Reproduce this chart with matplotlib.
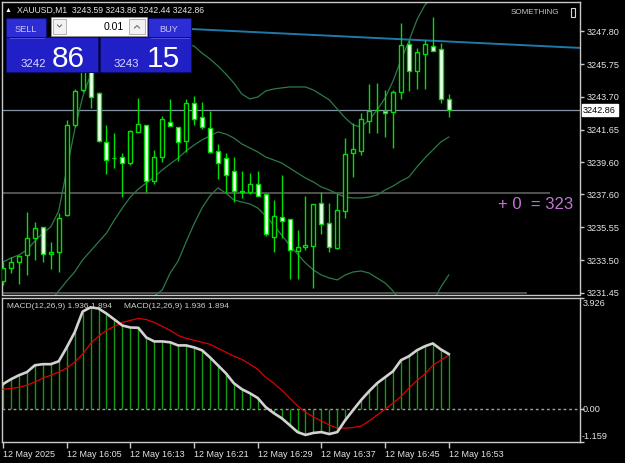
import matplotlib
matplotlib.use("Agg")
import matplotlib.pyplot as plt
from matplotlib.patches import Rectangle
import numpy as np

plt.rcParams['font.family'] = ['Liberation Sans', 'DejaVu Sans']

# XAUUSD M1, 12 May 2025 15:57 .. 16:53
opens = [3232.19, 3233.01, 3233.38, 3233.82, 3234.88, 3235.57, 3233.88, 3234.01, 3236.32, 3241.94,
         3244.13, 3245.63, 3243.94, 3240.88, 3239.88, 3239.94, 3239.57, 3241.51, 3241.94, 3238.44,
         3239.94, 3242.13, 3241.82, 3240.94, 3243.32, 3242.44, 3241.76, 3240.32, 3239.88, 3239.07,
         3237.82, 3237.76, 3238.26, 3237.63, 3234.94, 3236.19, 3236.07, 3234.07, 3234.32, 3234.38,
         3237.07, 3235.82, 3234.26, 3236.57, 3240.19, 3240.32, 3242.19, 3242.88, 3242.84, 3242.76,
         3244.01, 3247.01, 3245.32, 3246.38, 3246.88, 3246.69, 3243.59]
highs = [3233.38, 3233.69, 3233.82, 3236.51, 3235.88, 3235.57, 3234.63, 3236.44, 3242.26, 3244.19,
         3245.76, 3245.88, 3244.01, 3241.94, 3241.44, 3240.19, 3241.63, 3243.63, 3241.94, 3240.38,
         3242.51, 3243.57, 3241.82, 3243.57, 3243.76, 3243.38, 3242.82, 3240.76, 3240.19, 3239.94,
         3239.07, 3238.94, 3239.07, 3237.69, 3237.26, 3238.81, 3236.07, 3235.38, 3237.51, 3237.01,
         3237.76, 3237.07, 3237.63, 3241.13, 3242.07, 3242.69, 3244.51, 3244.57, 3244.13, 3244.13,
         3248.32, 3247.26, 3246.76, 3247.26, 3248.69, 3247.07, 3243.86]
lows = [3231.94, 3232.69, 3232.01, 3232.57, 3233.51, 3233.38, 3232.94, 3232.76, 3236.26, 3241.82,
        3244.01, 3243.01, 3240.88, 3238.88, 3239.26, 3237.44, 3239.44, 3241.51, 3237.76, 3238.26,
        3239.63, 3241.88, 3239.69, 3240.26, 3241.94, 3241.69, 3240.19, 3238.57, 3237.69, 3237.13,
        3237.38, 3237.63, 3237.51, 3235.01, 3234.01, 3234.88, 3232.32, 3232.32, 3234.13, 3231.76,
        3235.13, 3234.01, 3234.19, 3236.13, 3238.69, 3240.07, 3241.44, 3241.44, 3241.19, 3240.51,
        3243.57, 3244.07, 3244.19, 3244.19, 3246.57, 3243.32, 3242.44]
closes = [3233.01, 3233.38, 3233.76, 3234.88, 3235.51, 3233.88, 3234.01, 3236.13, 3241.94, 3244.07,
          3245.51, 3243.69, 3240.94, 3239.76, 3239.85, 3239.57, 3241.57, 3242.01, 3238.44, 3239.94,
          3242.32, 3241.88, 3240.88, 3243.32, 3242.32, 3241.82, 3240.26, 3239.57, 3238.81, 3237.82,
          3237.76, 3238.26, 3237.51, 3235.13, 3236.26, 3235.94, 3234.13, 3234.32, 3234.44, 3237.01,
          3235.76, 3234.32, 3236.63, 3240.13, 3240.44, 3242.32, 3242.82, 3242.85, 3242.67, 3244.01,
          3246.94, 3245.32, 3246.51, 3247.01, 3246.57, 3243.57, 3242.86]

bb_upper = [3233.38, 3233.63, 3233.82, 3234.13, 3234.69, 3235.19, 3235.57, 3236.57, 3239.13, 3241.63,
            3243.69, 3245.07, 3245.88, 3246.63, 3247.13, 3247.44, 3247.57, 3247.57, 3247.51, 3247.38,
            3247.26, 3247.13, 3247.01, 3246.94, 3246.88, 3246.44, 3246.07, 3245.63, 3245.13, 3244.57,
            3243.88, 3243.57, 3243.69, 3244.07, 3244.19, 3244.26, 3244.32, 3244.32, 3244.32, 3244.13,
            3243.82, 3243.51, 3242.94, 3242.38, 3241.94, 3241.82, 3242.26, 3242.88, 3243.63, 3244.69,
            3246.01, 3247.19, 3248.51, 3249.44, 3249.90, 3249.95, 3249.81]
bb_middle = [3228.19, 3228.51, 3228.88, 3229.32, 3229.82, 3230.32, 3230.94, 3231.57, 3232.19, 3232.76,
             3233.51, 3234.07, 3234.63, 3235.19, 3236.01, 3236.76, 3237.44, 3237.94, 3238.32, 3238.69,
             3239.13, 3239.51, 3239.88, 3240.32, 3240.69, 3241.01, 3241.26, 3241.51, 3241.38, 3241.13,
             3240.76, 3240.51, 3240.26, 3239.94, 3239.76, 3239.57, 3239.26, 3238.94, 3238.63, 3238.38,
             3238.07, 3237.88, 3237.63, 3237.44, 3237.38, 3237.38, 3237.44, 3237.57, 3237.88, 3238.13,
             3238.44, 3238.69, 3239.32, 3239.88, 3240.38, 3240.88, 3241.19]
bb_lower = [3222.88, 3223.01, 3223.19, 3223.51, 3224.01, 3224.44, 3224.88, 3225.69, 3226.01, 3226.32,
            3226.63, 3227.13, 3227.57, 3228.07, 3228.51, 3229.01, 3229.63, 3230.26, 3230.82, 3231.26,
            3231.63, 3232.69, 3233.44, 3234.63, 3235.76, 3236.76, 3237.51, 3238.01, 3237.69, 3237.26,
            3237.13, 3237.01, 3236.76, 3236.26, 3235.69, 3235.07, 3234.44, 3233.88, 3233.32, 3232.88,
            3232.57, 3232.38, 3232.26, 3232.57, 3232.76, 3232.82, 3232.69, 3232.38, 3232.07, 3231.57,
            3230.87, 3230.19, 3230.13, 3230.32, 3230.86, 3231.81, 3232.57]

macd_main = [0.88, 1.05, 1.19, 1.30, 1.54, 1.58, 1.58, 1.68, 2.17, 2.70,
             3.43, 3.58, 3.54, 3.36, 3.15, 2.94, 2.87, 2.86, 2.52, 2.38,
             2.38, 2.35, 2.24, 2.24, 2.17, 2.07, 1.82, 1.54, 1.26, 0.91,
             0.70, 0.56, 0.39, 0.07, -0.14, -0.32, -0.56, -0.81, -0.91, -0.84,
             -0.81, -0.88, -0.81, -0.39, -0.03, 0.32, 0.63, 0.91, 1.12, 1.33,
             1.72, 1.86, 2.07, 2.21, 2.31, 2.10, 1.936]
macd_signal = [0.70, 0.72, 0.77, 0.84, 0.95, 1.09, 1.19, 1.30, 1.44, 1.65,
               1.93, 2.31, 2.56, 2.77, 2.91, 3.05, 3.12, 3.19, 3.15, 3.05,
               2.91, 2.77, 2.59, 2.49, 2.42, 2.35, 2.28, 2.14, 2.00, 1.86,
               1.75, 1.58, 1.40, 1.12, 0.91, 0.67, 0.39, 0.11, -0.11, -0.28,
               -0.42, -0.56, -0.67, -0.67, -0.65, -0.60, -0.42, -0.21, 0.00, 0.21,
               0.44, 0.74, 1.00, 1.23, 1.54, 1.72, 1.894]

price_ticks = [3247.80, 3245.75, 3243.70, 3241.65, 3239.60, 3237.60, 3235.55, 3233.50, 3231.45]
time_ticks = [0, 8, 16, 24, 32, 40, 48, 56]
time_labels = ["12 May 2025", "12 May 16:05", "12 May 16:13", "12 May 16:21",
               "12 May 16:29", "12 May 16:37", "12 May 16:45", "12 May 16:53"]
last_price = 3242.86
level_a = 3237.69
level_b = 3231.47
trend_x = [20, 75]
trend_y = [3248.03, 3246.70]

W, H = 625, 463
LIME = '#00e000'
FG = '#e4e4e4'

fig = plt.figure(figsize=(W / 100, H / 100), dpi=100, facecolor='black')


def px_axes(x0, y0, x1, y1):
    a = fig.add_axes([x0 / W, 1 - y1 / H, (x1 - x0) / W, (y1 - y0) / H])
    a.set_facecolor('black')
    for s in a.spines.values():
        s.set_color('#c8c8c8')
        s.set_linewidth(1)
    return a


ax = px_axes(2, 2, 580, 294.5)
mx = px_axes(2, 297.5, 580, 442)

idx = np.arange(len(opens))
xlim = (-0.126, 72.49)

# ---- price panel
o = np.array(opens)
c = np.array(closes)
bull = c >= o
ax.plot(idx, bb_upper, color='#2c7a48', lw=0.9, zorder=2)
ax.plot(idx, bb_middle, color='#2c7a48', lw=0.9, zorder=2)
ax.plot(idx, bb_lower, color='#2c7a48', lw=0.9, zorder=2)
ax.axhline(last_price, color='#8796a6', lw=0.9, zorder=1)
ax.hlines(level_a, -1, 68.7, color='#585858', lw=1.3, zorder=1)
ax.hlines(level_b, -1, 65.8, color='#585858', lw=1.3, zorder=1)
ax.plot(trend_x, trend_y, color='#1f78aa', lw=1.4, zorder=2)
ax.vlines(idx, lows, highs, color=LIME, lw=1, zorder=3)
ax.bar(idx, np.maximum(np.abs(c - o), 0.01), bottom=np.minimum(o, c), width=0.5,
       color=np.where(bull, 'black', 'white'), edgecolor=LIME, linewidth=1, zorder=4)
# label runs off the chart's right edge, only "323" of the price shows
ax.text(62.2, 3236.95, "+ 0  = 323", color='#c276d2', fontsize=12, va='center',
        ha='left', zorder=5)

ax.set_xlim(*xlim)
ax.set_ylim(3231.35, 3249.63)
ax.set_xticks([])
ax.yaxis.tick_right()
ax.set_yticks(price_ticks)
ax.set_yticklabels(["%.2f" % p for p in price_ticks])
ax.tick_params(axis='y', length=3, width=1, color='#c8c8c8', labelcolor=FG,
               labelsize=6.6, pad=2)
ax.text(1.0055, last_price, "%.2f" % last_price, transform=ax.get_yaxis_transform(),
        color='black', fontsize=6.6, va='center', ha='left', zorder=6,
        bbox=dict(boxstyle='square,pad=0.18', fc='white', ec='white'), clip_on=False)

# ---- MACD panel
mx.vlines(idx, 0, macd_main, color='#129a12', lw=1, zorder=2)
mx.axhline(0, color='#a0a0a0', lw=1, ls=(0, (2, 2)), zorder=1)
mx.plot(idx, macd_signal, color='#dd0000', lw=0.9, zorder=3)
mx.plot(idx, macd_main, color='#d2d2d2', lw=1.9, zorder=4)
mx.set_xlim(*xlim)
mx.set_ylim(-1.159, 3.926)
mx.yaxis.tick_right()
mx.set_yticks([3.926, 0, -1.159])
mx.set_yticklabels(['', '', ''])
mx.tick_params(axis='y', length=3, width=1, color='#c8c8c8')
ytr = mx.get_yaxis_transform()
mx.text(1.005, 3.70, "3.926", transform=ytr, color=FG, fontsize=6.6, va='center', ha='left')
mx.text(1.005, 0, "0.00", transform=ytr, color=FG, fontsize=6.6, va='center', ha='left')
mx.text(1.003, -0.95, "-1.159", transform=ytr, color=FG, fontsize=6.6, va='center', ha='left')
mx.set_xticks(time_ticks)
mx.set_xticklabels(time_labels, ha='left')
mx.tick_params(axis='x', length=4, width=1, color='#c8c8c8', labelcolor=FG,
               labelsize=6.5, pad=2)
mx.text(0.009, 0.935, "MACD(12,26,9) 1.936 1.894", transform=mx.transAxes,
        color='#d0d0c8', fontsize=6, va='center')
mx.text(0.211, 0.935, "MACD(12,26,9) 1.936 1.894", transform=mx.transAxes,
        color='#d0d0c8', fontsize=6, va='center')

# ---- overlay: header and trade panel (pixel coordinates)
ov = fig.add_axes([0, 0, 1, 1])
ov.set_xlim(0, W)
ov.set_ylim(H, 0)
ov.axis('off')
ov.patch.set_alpha(0)

ov.text(4.5, 10, "\u25b2", color='white', fontsize=5, va='center', ha='left')
ov.text(17, 10, "XAUUSD,M1  3243.59 3243.86 3242.44 3242.86", color=FG,
        fontsize=6.2, va='center', ha='left')
ov.text(511, 12, "SOMETHING", color='#c8c8c8', fontsize=5.8, va='center', ha='left')
ov.add_patch(Rectangle((571, 8), 4, 9, fc='none', ec='#d8d8d8', lw=0.8))

ov.add_patch(Rectangle((5, 17), 187, 56, fc='black', ec='none'))
ov.add_patch(Rectangle((6, 18), 40, 19, fc='#2d2dd6', ec='#0c0c70', lw=0.6))
ov.add_patch(Rectangle((148, 18), 43, 19, fc='#2d2dd6', ec='#0c0c70', lw=0.6))
ov.add_patch(Rectangle((6, 37), 92, 35, fc='#2020c6', ec='#0c0c70', lw=0.6))
ov.add_patch(Rectangle((100, 37), 91, 35, fc='#2020c6', ec='#0c0c70', lw=0.6))
ov.plot([10, 44], [37.5, 37.5], color='#5a5ae0', lw=0.6)
ov.plot([151, 189], [37.5, 37.5], color='#5a5ae0', lw=0.6)
ov.add_patch(Rectangle((51, 17), 96, 19, fc='white', ec='#909090', lw=0.6))
ov.add_patch(Rectangle((53, 19), 13, 15, fc='#f2f2f2', ec='#a8a8a8', lw=0.6))
ov.add_patch(Rectangle((129, 19), 16, 15, fc='#f2f2f2', ec='#a8a8a8', lw=0.6))
ov.plot([57.5, 59.5, 61.5], [25, 27, 25], color='#707070', lw=0.8)
ov.plot([134.5, 137, 139.5], [28, 25.5, 28], color='#707070', lw=0.8)
ov.text(124, 27.5, "0.01", color='black', fontsize=7.6, va='center', ha='right')
ov.text(26, 29, "SELL", color='#c8c8ff', fontsize=6.6, va='center', ha='center')
ov.text(169, 29, "BUY", color='#c8c8ff', fontsize=6.6, va='center', ha='center')
ov.text(21, 67, "3242", color='#d8d8ff', fontsize=8.2, va='baseline', ha='left')
ov.text(52, 67, "86", color='white', fontsize=21.5, va='baseline', ha='left')
ov.text(114, 67, "3243", color='#d8d8ff', fontsize=8.2, va='baseline', ha='left')
ov.text(147, 67, "15", color='white', fontsize=21.5, va='baseline', ha='left')

fig.savefig("out.png", dpi=100, facecolor='black')
